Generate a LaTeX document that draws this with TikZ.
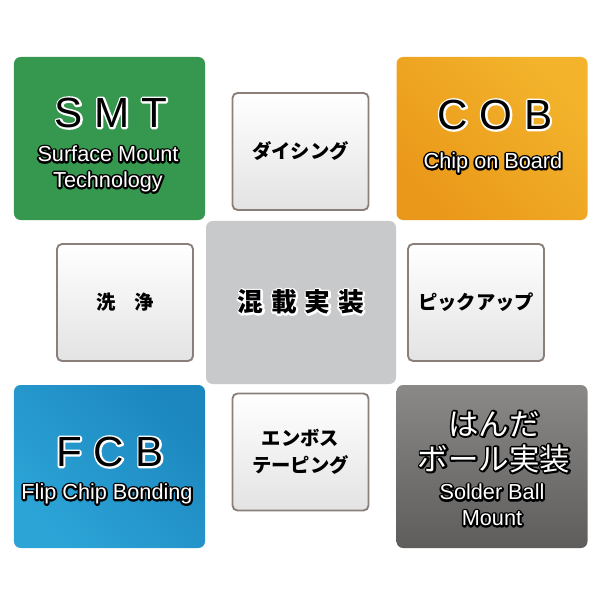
\documentclass[tikz,border=0pt]{standalone}
\usepackage{fontspec}
\setmainfont{Liberation Sans}
\newfontfamily\jp{Noto Sans CJK JP}

% texte detoure : #1 = couleur du contour (r g b), #2 = texte
\newcommand\detoure[2]{\leavevmode\rlap{\special{pdf:literal direct 1 Tr 3.2 w 1 j 1 J #1 RG}#2\special{pdf:literal direct 0 Tr}}#2}

\definecolor{vertSMT}{HTML}{36974F}
\definecolor{vertclair}{HTML}{52AC6B}
\definecolor{orangeCOB}{HTML}{EA9819}
\definecolor{orangeclair}{HTML}{F3B42C}
\definecolor{bleuFCB}{HTML}{2CA4D6}
\definecolor{bleusombre}{HTML}{1C87BF}
\definecolor{grisBGA}{HTML}{5F5D5B}
\definecolor{grisclair}{HTML}{8B8987}
\definecolor{griscentre}{HTML}{C8C9CB}
\definecolor{bordure}{HTML}{8A7F79}
\definecolor{fondbas}{HTML}{E3E3E3}

\begin{document}
\begin{tikzpicture}[x=0.03cm,y=-0.03cm]
  \useasboundingbox (0,0) rectangle (600,600);

  % grands blocs
  \begin{scope}[every node/.style={rounded corners=0.2cm,minimum width=5.73cm,minimum height=4.89cm,inner sep=0pt}]
    \node[left color=vertSMT,middle color=vertclair,right color=vertSMT,shading angle=135] (SMT) at (109.5,138.5) {};
    \node[left color=orangeCOB,right color=orangeclair,shading angle=135] (COB) at (492,138.5) {};
    \node[left color=bleuFCB,right color=bleusombre,shading angle=135] (FCB) at (109.5,466.5) {};
    \node[top color=grisclair,bottom color=grisBGA] (BGA) at (492,466.5) {};
    \node[fill=griscentre,minimum width=5.7cm] (centre) at (301,302.5) {};
  \end{scope}

  % petits blocs
  \begin{scope}[every node/.style={rounded corners=0.15cm,minimum width=4.08cm,minimum height=3.51cm,
      draw=bordure,line width=1.6pt,top color=white,bottom color=fondbas,inner sep=0pt,align=center,
      font=\jp\bfseries\fontsize{16.5}{23}\selectfont}]
    \node (dicing) at (300.5,151.5) {ダイシング};
    \node (senjo) at (125,302.5) {洗\hspace{1em}浄};
    \node (pickup) at (476,302.5) {ピックアップ};
    \node (emboss) at (300.5,452) {エンボス\\テーピング};
  \end{scope}

  % textes
  \begin{scope}[every node/.style={inner sep=0pt,align=center}]
    \node[font=\fontsize{36}{40}\selectfont] (SMTtitre) at (111,113) {\detoure{1 1 1}{S M T}};
    \node[font=\fontsize{36}{40}\selectfont] (COBtitre) at (495,115) {\detoure{1 1 1}{C O B}};
    \node[font=\fontsize{36}{40}\selectfont] (FCBtitre) at (110,452) {\detoure{1 1 1}{F C B}};
    \node[text=white,font=\fontsize{18.5}{22}\selectfont] (SMTsous) at (108,169) {\detoure{0 0 0}{Surface Mount}\\\detoure{0 0 0}{Technology}};
    \node[text=white,font=\fontsize{18.5}{22}\selectfont] (COBsous) at (493,163) {\detoure{0 0 0}{Chip on Board}};
    \node[text=white,font=\fontsize{18.5}{22}\selectfont] (FCBsous) at (107,494) {\detoure{0 0 0}{Flip Chip Bonding}};
    \node[text=white,font=\jp\fontsize{26}{30}\selectfont] (BGAjp) at (494,442) {\detoure{0 0 0}{はんだ}\\\detoure{0 0 0}{ボール実装}};
    \node[text=white,font=\fontsize{18.5}{22}\selectfont] (BGAsous) at (492,505) {\detoure{0 0 0}{Solder Ball}\\\detoure{0 0 0}{Mount}};
    \node[font=\jp\bfseries\fontsize{22}{26}\selectfont] (melange) at (301,302) {\detoure{1 1 1}{混\hspace{0.3em}載\hspace{0.3em}実\hspace{0.3em}装}};
  \end{scope}
\end{tikzpicture}
\end{document}
